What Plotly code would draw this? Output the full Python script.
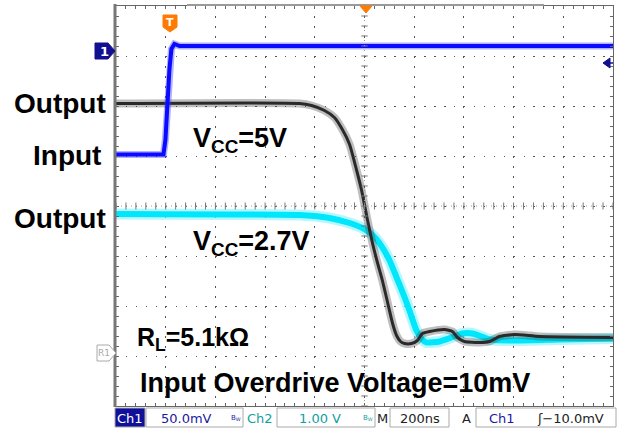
import plotly.graph_objects as go

# ---- data (time in ns, 200 ns/div; amplitudes in screen divisions) ----
ch1_t = [-1000, -809, -801, -793, -785, -777, -765, -744, 1000]
ch1_v = [1.03, 1.03, 1.33, 2.13, 2.73, 3.14, 3.24, 3.20, 3.20]

out5_t = [-1000, -262, -213, -161, -121, -89, -60, -32, -12, 12, 32, 52, 72, 93,
          113, 129, 145, 161, 189, 213, 233, 262, 322, 354, 374, 402, 463, 503,
          543, 604, 704, 1000]
out5_v = [2.05, 2.05, 2.01, 1.91, 1.77, 1.53, 1.23, 0.72, 0.32, -0.28, -0.74,
          -1.13, -1.49, -1.93, -2.35, -2.59, -2.71, -2.75, -2.75, -2.69, -2.55,
          -2.51, -2.47, -2.51, -2.63, -2.71, -2.73, -2.71, -2.61, -2.57, -2.61,
          -2.63]

out27_t = [-1000, -262, -201, -141, -60, -8, 28, 60, 101, 129, 157, 181, 209,
           229, 249, 302, 350, 394, 434, 471, 503, 612, 785, 1000]
out27_v = [-0.16, -0.18, -0.20, -0.24, -0.34, -0.44, -0.56, -0.74, -1.09, -1.43,
           -1.77, -2.09, -2.49, -2.65, -2.73, -2.71, -2.63, -2.55, -2.55, -2.61,
           -2.67, -2.69, -2.67, -2.65]

status_labels = ["Ch1", "50.0mV", "Ch2", "1.00 V", "M", "200ns", "A", "Ch1", "ʃ−10.0mV"]

W, H = 618, 430
L, R, T, B = 116, 613, 6, 406


def px(x):
    return (x - L) / (R - L)


def py(y):
    return (B - y) / (B - T)


fig = go.Figure()
fig.add_trace(go.Scatter(x=out27_t, y=out27_v, mode="lines",
                         line=dict(color="rgba(120,240,255,0.55)", width=11, shape="spline", smoothing=0.5),
                         hoverinfo="skip", showlegend=False))
fig.add_trace(go.Scatter(x=out27_t, y=out27_v, mode="lines",
                         line=dict(color="#00e6fa", width=6, shape="spline", smoothing=0.5),
                         showlegend=False))
fig.add_trace(go.Scatter(x=out5_t, y=out5_v, mode="lines",
                         line=dict(color="rgba(70,70,70,0.35)", width=8, shape="spline", smoothing=0.5),
                         hoverinfo="skip", showlegend=False))
fig.add_trace(go.Scatter(x=out5_t, y=out5_v, mode="lines",
                         line=dict(color="#2a2a2a", width=3, shape="spline", smoothing=0.5),
                         showlegend=False))
fig.add_trace(go.Scatter(x=ch1_t, y=ch1_v, mode="lines",
                         line=dict(color="rgba(60,60,255,0.4)", width=7),
                         hoverinfo="skip", showlegend=False))
fig.add_trace(go.Scatter(x=ch1_t, y=ch1_v, mode="lines",
                         line=dict(color="#0a0aff", width=4),
                         showlegend=False))

# center cross tick marks
path = ""
for i in range(51):
    t = -1000 + i * 40
    path += f"M{t},-0.07L{t},0.07"
for i in range(41):
    v = -4 + i * 0.2
    path += f"M-13,{v:.2f}L13,{v:.2f}"
shapes = [
    dict(type="path", path=path, xref="x", yref="y", line=dict(color="#777", width=1)),
    dict(type="line", xref="x", yref="y", x0=0, x1=0, y0=-4, y1=4,
         line=dict(color="#999", width=1, dash="1px,4px")),
    dict(type="line", xref="x", yref="y", x0=-1000, x1=1000, y0=0, y1=0,
         line=dict(color="#999", width=1, dash="1px,4px")),
    # thick left border
    dict(type="line", xref="paper", yref="paper", x0=px(115), x1=px(115), y0=py(4), y1=py(407),
         line=dict(color="#777", width=3)),
    # record bar on top
    dict(type="line", xref="paper", yref="paper", x0=px(187), x1=px(544), y0=py(5), y1=py(5),
         line=dict(color="#999", width=2)),
    # ch1 marker
    dict(type="path", xref="paper", yref="paper",
         path=f"M{px(95)},{py(43)}L{px(108)},{py(43)}L{px(115)},{py(51)}L{px(108)},{py(59)}L{px(95)},{py(59)}Z",
         fillcolor="#101090", line=dict(color="#101090", width=1)),
    # R1 marker
    dict(type="path", xref="paper", yref="paper",
         path=f"M{px(97)},{py(345)}L{px(109)},{py(345)}L{px(116)},{py(353)}L{px(109)},{py(361)}L{px(97)},{py(361)}Z",
         fillcolor="white", line=dict(color="#aaa", width=1)),
    # trigger T marker
    dict(type="path", xref="paper", yref="paper",
         path=f"M{px(163)},{py(15)}L{px(177)},{py(15)}L{px(177)},{py(27)}L{px(170)},{py(32)}L{px(163)},{py(27)}Z",
         fillcolor="#ff7a00", line=dict(color="#ff7a00", width=1)),
    # trigger position triangle
    dict(type="path", xref="paper", yref="paper",
         path=f"M{px(360)},{py(6)}L{px(372)},{py(6)}L{px(366)},{py(13)}Z",
         fillcolor="#ff7a00", line=dict(color="#ff7a00", width=1)),
    # trigger level arrow
    dict(type="path", xref="paper", yref="paper",
         path=f"M{px(603)},{py(63)}L{px(610)},{py(58)}L{px(610)},{py(68)}Z",
         fillcolor="#101090", line=dict(color="#101090", width=1)),
    dict(type="line", xref="paper", yref="paper", x0=px(608), x1=px(613), y0=py(63), y1=py(63),
         line=dict(color="#101090", width=1.5)),
]

# status bar boxes
boxes = [(115, 145, "#10109a"), (146, 243, "white"), (277, 375, "white"),
         (390, 449, "white"), (476, 616, "white")]
for x0, x1, fc in boxes:
    shapes.append(dict(type="rect", xref="paper", yref="paper", x0=px(x0), x1=px(x1),
                       y0=py(427), y1=py(408), fillcolor=fc, line=dict(color="#aaa", width=1)))

BIG = dict(family="Liberation Sans", size=28, color="black", weight="bold")
MID = dict(family="Liberation Sans", size=27, color="black", weight="bold")
RLF = dict(family="Liberation Sans", size=25, color="black", weight="bold")
ann = []


def text(x, y, s, font, xanchor="left"):
    ann.append(dict(x=px(x), y=py(y), xref="paper", yref="paper", text=s, showarrow=False,
                    xanchor=xanchor, yanchor="middle", font=font))


text(108, 103, "Output", BIG, "right")
text(103, 155, "Input", BIG, "right")
text(108, 218, "Output", BIG, "right")
text(191, 140, "V<sub>CC</sub>=5V", MID)
text(191, 243, "V<sub>CC</sub>=2.7V", MID)
text(135, 339, "R<sub>L</sub>=5.1kΩ", RLF)
text(138, 383, "Input Overdrive Voltage=10mV", MID)

SMALLW = dict(family="DejaVu Sans", size=13, color="white", weight="bold")
text(104, 51, "1", SMALLW, "center")
text(104, 353, "R1", dict(family="DejaVu Sans", size=9, color="#aaa"), "center")
text(170, 22, "T", dict(family="DejaVu Sans", size=11, color="white", weight="bold"), "center")

SB = 13
navy = "#1a1aa0"
teal = "#10a0a0"
text(130, 418, status_labels[0], dict(family="DejaVu Sans", size=SB, color="white"), "center")
text(186, 418, status_labels[1], dict(family="DejaVu Sans", size=SB, color=navy), "center")
text(236, 418, "B<sub>W</sub>", dict(family="DejaVu Sans", size=7, color=navy), "center")
text(260, 418, status_labels[2], dict(family="DejaVu Sans", size=SB, color=teal), "center")
text(320, 418, status_labels[3], dict(family="DejaVu Sans", size=SB, color=teal), "center")
text(368, 418, "B<sub>W</sub>", dict(family="DejaVu Sans", size=7, color=teal), "center")
text(382, 418, status_labels[4], dict(family="DejaVu Sans", size=SB, color="#222"), "center")
text(420, 418, status_labels[5], dict(family="DejaVu Sans", size=SB, color="#222"), "center")
text(466, 418, status_labels[6], dict(family="DejaVu Sans", size=SB, color="#222"), "center")
text(502, 418, status_labels[7], dict(family="DejaVu Sans", size=SB, color=navy), "center")
text(570, 418, status_labels[8], dict(family="DejaVu Sans", size=SB, color="#222"), "center")

fig.update_layout(
    width=W, height=H,
    margin=dict(l=L, r=W - R, t=T, b=H - B),
    paper_bgcolor="white", plot_bgcolor="white",
    shapes=shapes, annotations=ann,
    xaxis=dict(range=[-1000, 1000], dtick=200, tick0=-1000, showgrid=True,
               gridcolor="#555", gridwidth=1, griddash="1.5px,8.5px",
               zeroline=False, showticklabels=False, showline=True, linecolor="#666",
               linewidth=1, mirror="ticks", ticks="inside", ticklen=3, tickcolor="#666",
               minor=dict(dtick=40, ticks="inside", ticklen=3, tickcolor="#666", showgrid=False),
               fixedrange=True),
    yaxis=dict(range=[-4, 4], dtick=1, tick0=-4, showgrid=True,
               gridcolor="#555", gridwidth=1, griddash="1.5px,8.44px",
               zeroline=False, showticklabels=False, showline=True, linecolor="#666",
               linewidth=1, mirror="ticks", ticks="inside", ticklen=3, tickcolor="#666",
               minor=dict(dtick=0.2, ticks="inside", ticklen=3, tickcolor="#666", showgrid=False),
               fixedrange=True),
)

fig.write_html("out.html", config={"displayModeBar": False},
               post_script="document.body.style.margin='0';document.body.style.overflow='hidden';")
